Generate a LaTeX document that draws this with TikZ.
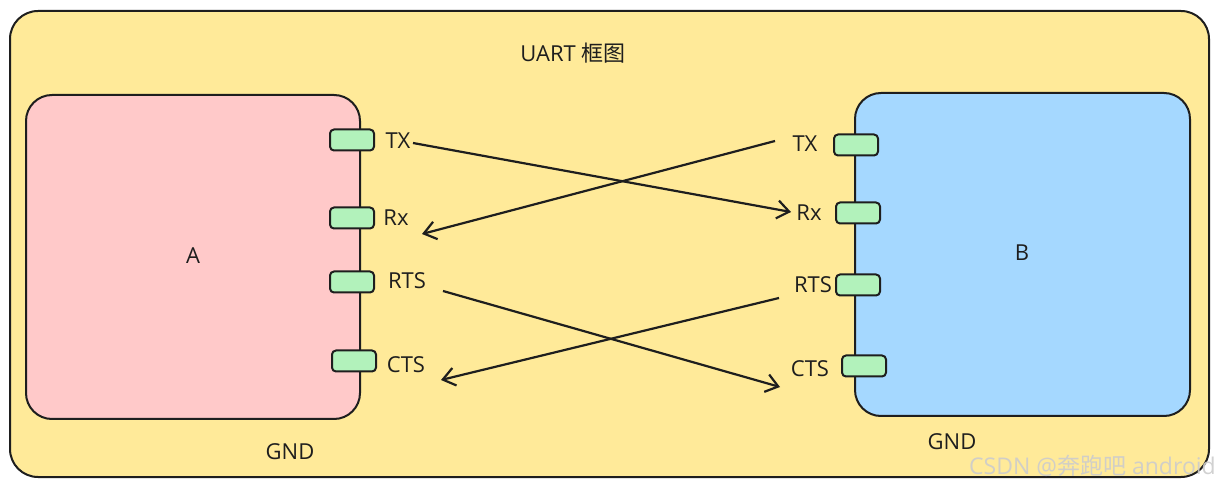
\documentclass[tikz,border=0pt]{standalone}
\usepackage{fontspec}
\setmainfont{Open Sans}
\newfontfamily\cjk{Noto Sans CJK SC}
\usetikzlibrary{arrows.meta}
\definecolor{ink}{HTML}{1E1E1E}
\definecolor{bgyellow}{HTML}{FFEA99}
\definecolor{pinkA}{HTML}{FFC9C9}
\definecolor{blueB}{HTML}{A5D8FF}
\definecolor{pingreen}{HTML}{B2F2BB}
\tikzset{
  panel/.style={draw=ink, line width=2pt, rounded corners=26pt},
  pin/.style={draw=ink, fill=pingreen, line width=2pt, rounded corners=4pt, minimum width=44pt, minimum height=21pt, inner sep=0pt},
  lbl/.style={font=\fontsize{22}{26}\selectfont, text=ink, inner sep=0pt},
  wire/.style={draw=ink, line width=2.2pt, -{Straight Barb[length=12pt,width=18pt,line width=2.2pt]}},
}
\begin{document}
\begin{tikzpicture}[x=1pt,y=-1pt]
\useasboundingbox (0,0) rectangle (1219,486);
\fill[white] (0,0) rectangle (1219,486);
% outer frame
\draw[panel, fill=bgyellow, rounded corners=28pt] (10,11) rectangle (1209,477);
\node[lbl] (title) at (573,53) {UART {\cjk 框图}};
% boxes
\draw[panel, fill=pinkA] (26,95) rectangle (360,419);
\draw[panel, fill=blueB] (855,93) rectangle (1190,416);
\node[lbl] (A) at (193,256) {A};
\node[lbl] (B) at (1022,253) {B};
% left pins
\node[pin] (ptxL) at (352,140) {};
\node[pin] (prxL) at (352,218) {};
\node[pin] (prtsL) at (352,282) {};
\node[pin] (pctsL) at (354,361) {};
% right pins
\node[pin] (ptxR) at (856,145) {};
\node[pin] (prxR) at (858,213) {};
\node[pin] (prtsR) at (858,285) {};
\node[pin] (pctsR) at (864,366) {};
% labels
\node[lbl] (txL) at (398,141) {TX};
\node[lbl] (rxL) at (396,218) {Rx};
\node[lbl] (rtsL) at (407,281) {RTS};
\node[lbl] (ctsL) at (406,365) {CTS};
\node[lbl] (txR) at (805,144) {TX};
\node[lbl] (rxR) at (809,213) {Rx};
\node[lbl] (rtsR) at (813,285) {RTS};
\node[lbl] (ctsR) at (810,369) {CTS};
\node[lbl] (gndL) at (290,452) {GND};
\node[lbl] (gndR) at (952,442) {GND};
% wire ends
\coordinate (a1) at (413,143);
\coordinate (a2) at (791,212);
\coordinate (b1) at (775,141);
\coordinate (b2) at (422,234);
\coordinate (c1) at (443,291);
\coordinate (c2) at (780,387);
\coordinate (d1) at (779,298);
\coordinate (d2) at (441,380);
\draw[wire] (a1) -- (a2);
\draw[wire] (b1) -- (b2);
\draw[wire] (c1) -- (c2);
\draw[wire] (d1) -- (d2);
% watermark
\node[font=\fontsize{23}{26}\selectfont, text=gray!40, opacity=0.9, anchor=east, inner sep=0pt] (wm) at (1216,466) {CSDN @{\cjk 奔跑吧} android};
\end{tikzpicture}
\end{document}
